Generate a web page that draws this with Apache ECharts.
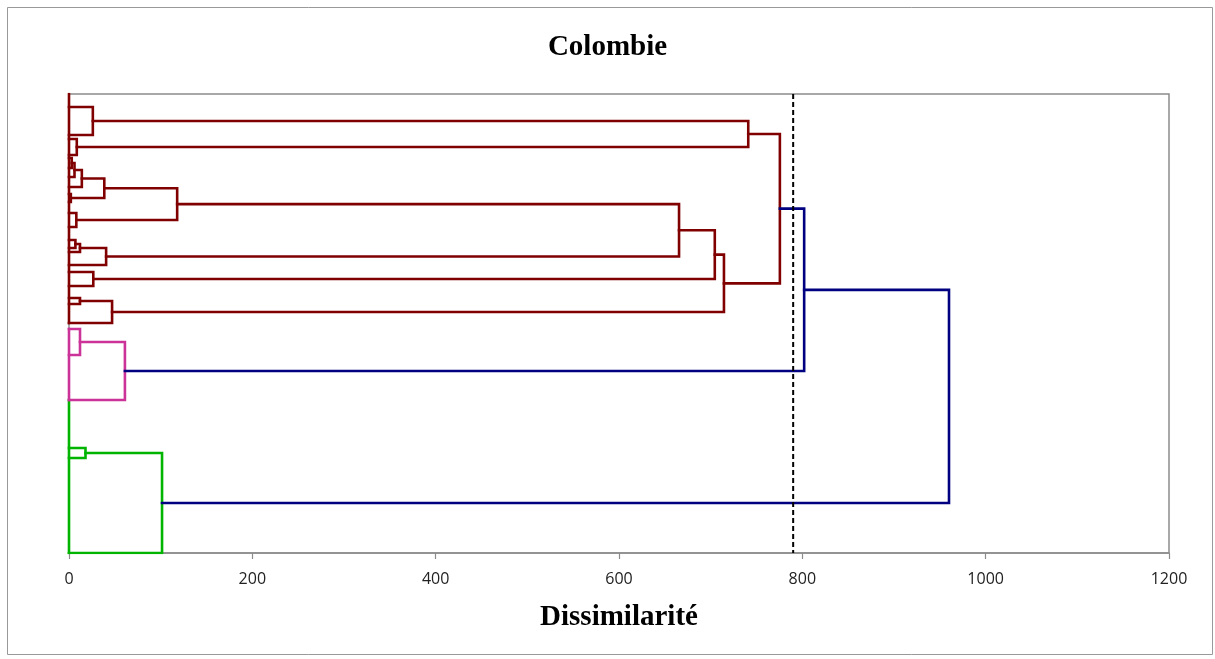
<!DOCTYPE html>
<html>
<head>
<meta charset="utf-8">
<script src="https://cdn.jsdelivr.net/npm/echarts@6/dist/echarts.min.js"></script>
<style>
html,body{margin:0;padding:0;background:#fff;}
#c{width:1215px;height:659px;}
</style>
</head>
<body>
<div id="c"></div>
<script>
// Leaf positions along the (hidden) vertical axis, top = 0
const leafPos = [1.3, 4.1, 4.5, 6.1, 6.4, 7.4, 8.3, 9.3, 10.0, 10.8, 11.9, 13.3, 14.6, 15.4, 15.8, 17.1, 17.8, 19.2, 20.4, 21.0, 22.9, 23.5, 26.1, 30.6, 35.4, 36.4, 45.9];
// Merges: left child, right child, dissimilarity height, group
const mergeLeft   = ['L0','L2','M0','L4','M3','M4','L8','M5','L10','M7','L12','M10','M11','M9','L16','M13','L18','M16','M15','M2','L21','M20','M19','L24','M23','M22'];
const mergeRight  = ['L1','L3','M1','L5','L6','L7','L9','M6','L11','M8','L13','L14','L15','M12','L17','M14','L19','L20','M17','M18','L22','L23','M21','L25','L26','M24'];
const mergeHeight = [26, 8.5, 741, 3, 6, 14, 2, 38.5, 8, 118, 7, 12, 40.5, 665.5, 26.5, 704.5, 12, 47, 714.5, 775.5, 12, 61, 802, 18, 101.5, 960];
const mergeGroup  = ['red','red','red','red','red','red','red','red','red','red','red','red','red','red','red','red','red','red','red','red','pink','pink','blue','green','green','blue'];
// Zero-height stems along the axis for each group
const trunkGroup = ['red','pink','green'];
const trunkStart = [0, 23.5, 30.6];
const trunkEnd   = [22.9, 30.6, 45.9];
const cutLevel = 790;
const xTicks = [0, 200, 400, 600, 800, 1000, 1200];
const posMax = 45.9;

const groupColors = {red:'#800000', pink:'#CC3399', green:'#00B400', blue:'#000080'};

const nodeY = {}, nodeH = {};
leafPos.forEach((p,i)=>{ nodeY['L'+i]=p; nodeH['L'+i]=0; });
const segs = {red:[], pink:[], green:[], blue:[]};
mergeLeft.forEach((a,i)=>{
  const b = mergeRight[i], h = mergeHeight[i];
  const ya = nodeY[a], yb = nodeY[b];
  segs[mergeGroup[i]].push({coords:[[nodeH[a],ya],[h,ya],[h,yb],[nodeH[b],yb]]});
  nodeY['M'+i] = (ya+yb)/2; nodeH['M'+i] = h;
});
trunkGroup.forEach((g,i)=>{
  segs[g].push({coords:[[0,trunkStart[i]],[0,trunkEnd[i]]]});
});

const series = ['green','pink','red','blue'].map(g=>({
  type:'lines', coordinateSystem:'cartesian2d', polyline:true, silent:true,
  data: segs[g],
  lineStyle:{color:groupColors[g], width:2.6, opacity:1, cap:'square', join:'miter'},
  z: 3
}));
series.push({
  type:'lines', coordinateSystem:'cartesian2d', polyline:true, silent:true,
  data:[{coords:[[cutLevel,0],[cutLevel,posMax]]}],
  lineStyle:{color:'#000', width:2, type:[5,3], opacity:1},
  z: 4
});

const chart = echarts.init(document.getElementById('c'));
chart.setOption({
  animation:false,
  backgroundColor:'#fff',
  title:{
    text:'Colombie', left:'center', top:28,
    textStyle:{fontFamily:'Liberation Serif', fontWeight:'bold', fontSize:29, color:'#000'}
  },
  graphic:[{type:'rect', shape:{x:7.5,y:7.5,width:1205,height:647}, style:{fill:'none', stroke:'#999', lineWidth:1}, silent:true}],
  grid:{left:69, right:46, top:94, bottom:106, show:true, borderColor:'#8c8c8c', borderWidth:1.5, backgroundColor:'transparent'},
  xAxis:{
    type:'value', min:xTicks[0], max:xTicks[xTicks.length-1], interval:200,
    name:'Dissimilarité', nameLocation:'middle', nameGap:50,
    nameTextStyle:{fontFamily:'Liberation Serif', fontWeight:'bold', fontSize:29, color:'#000'},
    axisLine:{show:true, onZero:false, lineStyle:{color:'#8c8c8c', width:1.5}},
    axisTick:{show:true, length:6, lineStyle:{color:'#8c8c8c', width:1.2}},
    axisLabel:{fontFamily:'Open Sans', fontSize:16, color:'#222', margin:18, formatter: v => String(v)},
    splitLine:{show:false}
  },
  yAxis:{
    type:'value', min:0, max:posMax, inverse:true, show:false,
    axisLine:{onZero:false},
    splitLine:{show:false}
  },
  series: series
});
</script>
</body>
</html>
